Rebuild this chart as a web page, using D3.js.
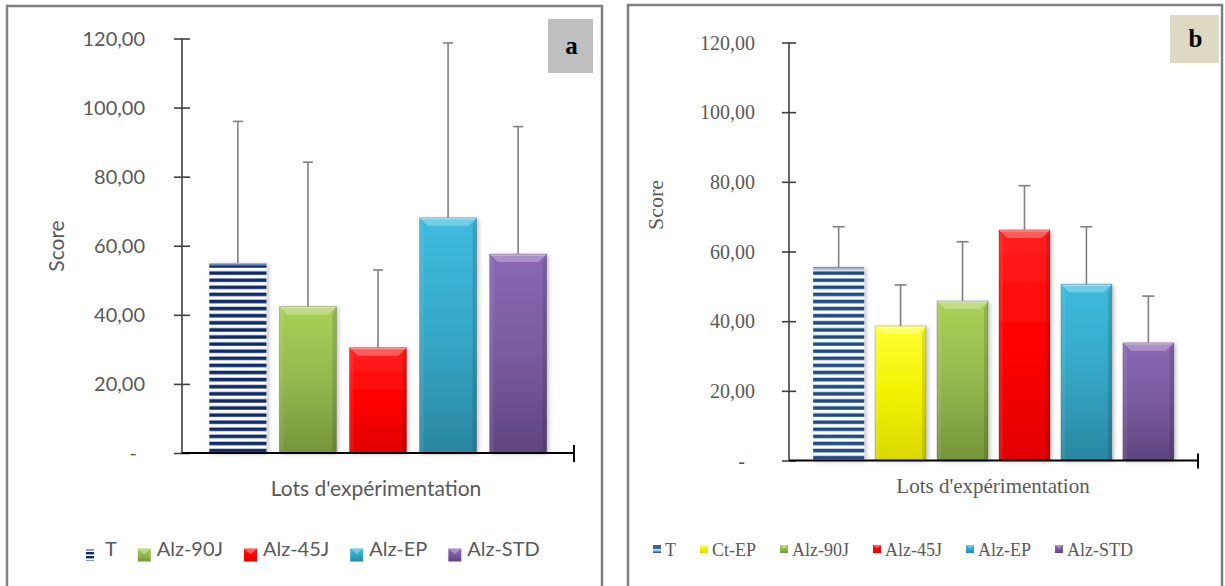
<!DOCTYPE html>
<html><head><meta charset="utf-8">
<script src="https://cdn.jsdelivr.net/npm/d3@7"></script>
<style>html,body{margin:0;padding:0;background:#fff;}svg{display:block;}</style>
</head><body>
<svg id="chart" width="1225" height="586"></svg>
<script>
// ---- data ----
const categoriesA = ["T", "Alz-90J", "Alz-45J", "Alz-EP", "Alz-STD"];
const meansA = [55.0, 42.4, 30.5, 68.1, 57.6];
const errorsA = [41.0, 41.8, 22.5, 50.6, 36.9];

const categoriesB = ["T", "Ct-EP", "Alz-90J", "Alz-45J", "Alz-EP", "Alz-STD"];
const meansB = [55.5, 38.6, 45.8, 66.2, 50.6, 33.8];
const errorsB = [11.6, 11.8, 17.0, 12.7, 16.5, 13.4];

const yTicks = [0, 20, 40, 60, 80, 100, 120];
const panelLetters = ["a", "b"];
const axisTitleY = "Score";
const axisTitleX = "Lots d'expérimentation";

// ---- styles ----
const palette = {
  "Ct-EP":  ["#ffff33", "#f2f200", "#d9d900"],
  "Alz-90J":["#a9d055", "#95b84f", "#76943a"],
  "Alz-45J":["#ff2020", "#ff0000", "#e00000"],
  "Alz-EP": ["#3dbbde", "#35a7c6", "#2a87a1"],
  "Alz-STD":["#8a68b4", "#7a5b9f", "#5d457e"]
};

const svg = d3.select("#chart");
const defs = svg.append("defs");

Object.entries(palette).forEach(([k, c], i) => {
  const g = defs.append("linearGradient").attr("id", "grad" + i)
    .attr("x1", 0).attr("y1", 0).attr("x2", 0).attr("y2", 1);
  g.append("stop").attr("offset", "0%").attr("stop-color", c[0]);
  g.append("stop").attr("offset", "50%").attr("stop-color", c[1]);
  g.append("stop").attr("offset", "100%").attr("stop-color", c[2]);
});
const gradId = k => "url(#grad" + Object.keys(palette).indexOf(k) + ")";

function stripePattern(id, color) {
  const p = defs.append("pattern").attr("id", id).attr("patternUnits", "userSpaceOnUse")
    .attr("width", 8).attr("height", 7.1);
  p.append("rect").attr("width", 8).attr("height", 7.1).attr("fill", "#fff");
  p.append("rect").attr("y", 1.5).attr("width", 8).attr("height", 3.6).attr("fill", color);
}
stripePattern("stripeA", "#0f2c6c");
stripePattern("stripeB", "#1f4c88");

const shadow = defs.append("filter").attr("id", "shadow").attr("x", "-20%").attr("y", "-10%")
  .attr("width", "140%").attr("height", "120%");
shadow.append("feDropShadow").attr("dx", 2).attr("dy", 1).attr("stdDeviation", 2)
  .attr("flood-color", "#000").attr("flood-opacity", 0.25);

const fmt = v => v === 0 ? "-" : d3.format(".2f")(v).replace(".", ",");

function drawPanel(cfg) {
  const g = svg.append("g");
  // frame
  g.append("rect").attr("x", cfg.frame[0]).attr("y", cfg.frame[1])
    .attr("width", cfg.frame[2] - cfg.frame[0]).attr("height", 620)
    .attr("fill", "none").attr("stroke", "#808080").attr("stroke-width", 2.5);

  const y = d3.scaleLinear().domain([0, 120]).range(cfg.yRange);
  const x = d3.scaleBand().domain(cfg.categories).range(cfg.xRange)
    .paddingInner(cfg.padIn).paddingOuter(cfg.padOut);
  const y0 = y(0);

  // bars
  const bars = g.append("g");
  cfg.categories.forEach((c, i) => {
    const x0 = x(c), w = x.bandwidth(), top = y(cfg.means[i]), h = y0 - top;
    const bg = bars.append("g");
    if (c === "T") {
      bg.append("rect").attr("x", x0).attr("y", top).attr("width", w).attr("height", h)
        .attr("fill", cfg.stripe).attr("filter", "url(#shadow)");
      bg.append("rect").attr("x", x0).attr("y", top).attr("width", w).attr("height", 3)
        .attr("fill", "#6f8fc4").attr("opacity", 0.6);
    } else {
      bg.append("rect").attr("x", x0).attr("y", top).attr("width", w).attr("height", h)
        .attr("fill", gradId(c)).attr("filter", "url(#shadow)");
      const b = 8, x1 = x0 + w;
      bg.append("path").attr("d", `M${x0},${top}L${x1},${top}L${x1 - b},${top + b}L${x0 + b},${top + b}Z`)
        .attr("fill", "#fff").attr("opacity", 0.28);
      bg.append("path").attr("d", `M${x0},${top}L${x0 + b / 2},${top + b}L${x0 + b / 2},${y0 - 2}L${x0},${y0}Z`)
        .attr("fill", "#fff").attr("opacity", 0.08);
      bg.append("path").attr("d", `M${x1},${top}L${x1 - b / 2},${top + b}L${x1 - b / 2},${y0 - 2}L${x1},${y0}Z`)
        .attr("fill", "#000").attr("opacity", 0.12);
      bg.append("rect").attr("x", x0).attr("y", top).attr("width", w).attr("height", h)
        .attr("fill", "none").attr("stroke", "#000").attr("stroke-opacity", 0.18).attr("stroke-width", 1);
      bg.append("rect").attr("x", x0 + 1).attr("y", top + 0.5).attr("width", w - 2).attr("height", 1.2)
        .attr("fill", "#fff").attr("opacity", 0.35);
    }
  });

  // error bars
  const eb = g.append("g").attr("stroke", "#808080").attr("stroke-width", 1.6).attr("fill", "none");
  cfg.categories.forEach((c, i) => {
    const cx = x(c) + x.bandwidth() / 2;
    const t = y(cfg.means[i] + cfg.errors[i]);
    eb.append("line").attr("x1", cx).attr("x2", cx).attr("y1", y(cfg.means[i])).attr("y2", t);
    eb.append("line").attr("x1", cx - cfg.cap).attr("x2", cx + cfg.cap).attr("y1", t).attr("y2", t);
  });

  // y axis
  const ax = cfg.xRange[0];
  const yAxis = g.append("g").attr("transform", `translate(${ax},0)`)
    .call(d3.axisLeft(y).tickValues(yTicks).tickFormat(fmt).tickSize(cfg.tick).tickPadding(cfg.labelGap));
  yAxis.select(".domain").attr("stroke", "#404040").attr("stroke-width", 1.6)
    .attr("d", `M0,${y(120)}V${y0}`);
  yAxis.selectAll(".tick line").attr("stroke", "#404040").attr("stroke-width", 1.6)
    .attr("x1", cfg.tick);
  yAxis.selectAll(".tick text").attr("fill", "#595959").attr("font-family", cfg.font)
    .attr("font-size", cfg.tickFont).attr("dy", "0.34em")
    .attr("dx", d => d === 0 ? -cfg.dashShift : 0);

  // x axis
  const xAxis = g.append("g").attr("transform", `translate(0,${y0})`)
    .call(d3.axisBottom(x).tickSize(0).tickFormat(""));
  xAxis.select(".domain").attr("stroke", "#000").attr("stroke-width", 2.2)
    .attr("d", `M${cfg.xRange[0]},0H${cfg.xRange[1]}`);
  g.append("line").attr("x1", cfg.xRange[1]).attr("x2", cfg.xRange[1])
    .attr("y1", y0 - cfg.tick).attr("y2", y0 + cfg.tick + 1)
    .attr("stroke", "#000").attr("stroke-width", 2);

  // axis titles
  g.append("text").attr("transform", `translate(${cfg.yTitlePos[0]},${cfg.yTitlePos[1]}) rotate(-90)`)
    .attr("text-anchor", "middle").attr("fill", "#595959").attr("font-family", cfg.font)
    .attr("font-size", cfg.yTitleFont).text(axisTitleY);
  g.append("text").attr("x", cfg.xTitlePos[0]).attr("y", cfg.xTitlePos[1])
    .attr("text-anchor", "middle").attr("fill", "#595959").attr("font-family", cfg.font)
    .attr("font-size", cfg.xTitleFont).text(axisTitleX);

  // letter box
  const lb = cfg.letterBox;
  g.append("rect").attr("x", lb[0]).attr("y", lb[1]).attr("width", lb[2]).attr("height", lb[3])
    .attr("fill", cfg.letterFill);
  g.append("text").attr("x", lb[0] + lb[2] / 2 + 1).attr("y", lb[1] + lb[3] / 2 + 8)
    .attr("text-anchor", "middle").attr("font-family", "Liberation Serif, serif")
    .attr("font-weight", "bold").attr("font-size", 25).attr("fill", "#000").text(cfg.letter);

  // legend
  const leg = g.append("g");
  let lx = cfg.legendX;
  cfg.categories.forEach((c) => {
    const isT = c === "T";
    const iw = isT ? cfg.tIcon[0] : cfg.icon, ih = isT ? cfg.tIcon[1] : cfg.icon;
    const iy = cfg.legendIconY - ih / 2;
    if (isT) {
      leg.append("rect").attr("x", lx).attr("y", iy).attr("width", iw).attr("height", ih)
        .attr("fill", cfg.stripeIcon);
    } else {
      leg.append("rect").attr("x", lx).attr("y", iy).attr("width", iw).attr("height", ih)
        .attr("fill", gradId(c));
      leg.append("path").attr("d", `M${lx},${iy}L${lx + iw},${iy}L${lx + iw / 2},${iy + ih * 0.45}Z`)
        .attr("fill", "#fff").attr("opacity", 0.3);
    }
    const t = leg.append("text").attr("x", lx + cfg.textOffset).attr("y", cfg.legendBase)
      .attr("fill", "#595959").attr("font-family", cfg.font).attr("font-size", cfg.legendFont).text(c);
    lx = lx + cfg.textOffset + t.node().getComputedTextLength() + cfg.itemGap;
  });
}

// icon stripe patterns
(function () {
  const p = defs.append("pattern").attr("id", "stripeIconA").attr("patternUnits", "userSpaceOnUse")
    .attr("width", 8).attr("height", 4);
  p.append("rect").attr("width", 8).attr("height", 4).attr("fill", "#fff");
  p.append("rect").attr("width", 8).attr("height", 2.4).attr("fill", "#0f2c6c");
  const q = defs.append("linearGradient").attr("id", "stripeIconB").attr("x1", 0).attr("y1", 0).attr("x2", 0).attr("y2", 1);
  q.append("stop").attr("offset", "0%").attr("stop-color", "#3a64a8");
  q.append("stop").attr("offset", "55%").attr("stop-color", "#3a64a8");
  q.append("stop").attr("offset", "56%").attr("stop-color", "#dfe6f2");
  q.append("stop").attr("offset", "100%").attr("stop-color", "#1f4c88");
})();

drawPanel({
  frame: [7, 6, 602], categories: categoriesA, means: meansA, errors: errorsA,
  yRange: [453, 38.5], xRange: [182, 574], padIn: 0.186, padOut: 0.39,
  stripe: "url(#stripeA)", stripeIcon: "url(#stripeIconA)", cap: 5,
  tick: 8, labelGap: 29, dashShift: 8,
  font: "Lato, 'Open Sans', sans-serif", tickFont: 20, yTitleFont: 21, xTitleFont: 21, legendFont: 20,
  yTitlePos: [64, 246], xTitlePos: [376, 496],
  letterBox: [548, 19, 45, 54], letterFill: "#bfbfbf", letter: panelLetters[0],
  legendX: 86, legendIconY: 555, legendBase: 556, icon: 13, tIcon: [8, 11], textOffset: 19, itemGap: 21
});

drawPanel({
  frame: [628, 5, 1222], categories: categoriesB, means: meansB, errors: errorsB,
  yRange: [460.5, 42.5], xRange: [789, 1198], padIn: 0.177, padOut: 0.39,
  stripe: "url(#stripeB)", stripeIcon: "url(#stripeIconB)", cap: 6,
  tick: 7, labelGap: 27, dashShift: 10,
  font: "'Liberation Serif', 'DejaVu Serif', serif", tickFont: 20, yTitleFont: 22, xTitleFont: 21, legendFont: 18,
  yTitlePos: [663, 205], xTitlePos: [993, 493],
  letterBox: [1170, 15, 49, 48], letterFill: "#ddd9c3", letter: panelLetters[1],
  legendX: 653, legendIconY: 549, legendBase: 556, icon: 8, tIcon: [8, 8], textOffset: 12, itemGap: 24
});
</script>
</body></html>
